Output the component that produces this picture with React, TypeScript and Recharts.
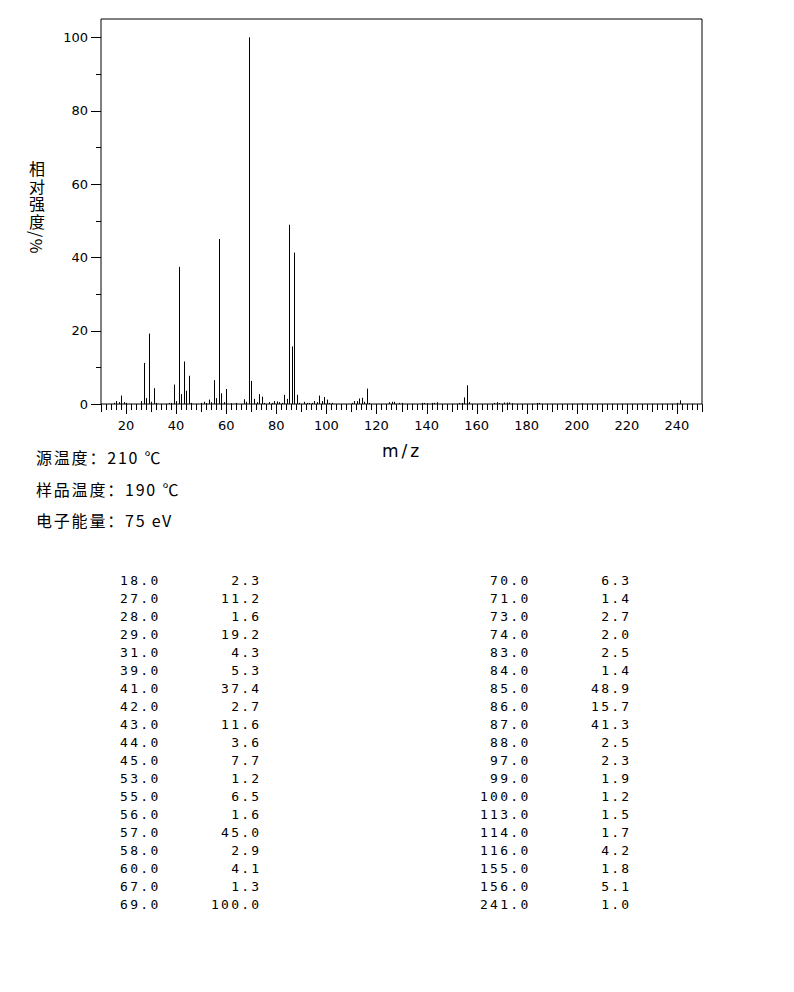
import React from "react";
import { BarChart, Bar, XAxis, YAxis, ReferenceLine } from "recharts";

// peaks listed in the table (m/z, relative intensity %)
const tableMz = [
  18, 27, 28, 29, 31, 39, 41, 42, 43, 44, 45, 53, 55, 56, 57, 58, 60, 67, 69,
  70, 71, 73, 74, 83, 84, 85, 86, 87, 88, 97, 99, 100, 113, 114, 116, 155, 156, 241,
];
const tableIntensity = [
  2.3, 11.2, 1.6, 19.2, 4.3, 5.3, 37.4, 2.7, 11.6, 3.6, 7.7, 1.2, 6.5, 1.6, 45.0, 2.9, 4.1, 1.3, 100.0,
  6.3, 1.4, 2.7, 2.0, 2.5, 1.4, 48.9, 15.7, 41.3, 2.5, 2.3, 1.9, 1.2, 1.5, 1.7, 4.2, 1.8, 5.1, 1.0,
];

// small peaks seen in the spectrum but below the table cut-off (estimated)
const minorMz = [
  15, 16, 17, 19, 20, 26, 30, 32, 37, 38, 40, 46, 50, 51, 52, 54, 59, 62, 64, 68,
  72, 75, 77, 78, 79, 80, 81, 82, 89, 91, 92, 93, 94, 95, 96, 98, 101, 102, 110, 111,
  112, 115, 117, 125, 126, 127, 129, 130, 138, 139, 140, 142, 143, 144, 153, 154, 157, 167,
  168, 169, 171, 172, 173, 174, 184, 185, 202, 240,
];
const minorIntensity = [
  0.3, 0.8, 0.5, 0.5, 0.3, 0.8, 0.6, 0.3, 0.3, 0.3, 0.8, 0.3, 0.3, 0.6, 0.3, 0.5, 0.5, 0.2, 0.3, 0.6,
  0.5, 0.3, 0.5, 0.3, 0.8, 0.7, 0.5, 0.3, 0.3, 0.6, 0.3, 0.3, 0.3, 0.8, 0.5, 0.8, 0.3, 0.3, 0.3, 0.8,
  0.8, 0.6, 0.3, 0.5, 0.6, 0.6, 0.3, 0.3, 0.3, 0.3, 0.2, 0.3, 0.3, 0.5, 0.3, 0.3, 0.5, 0.3,
  0.5, 0.2, 0.4, 0.4, 0.4, 0.2, 0.3, 0.3, 0.2, 0.3,
];

const xTickLabels = [20, 40, 60, 80, 100, 120, 140, 160, 180, 200, 220, 240];
const yTickLabels = [0, 20, 40, 60, 80, 100];

const conditions = ["源温度：210 ℃", "样品温度：190 ℃", "电子能量：75 eV"];

const peaks = [
  ...tableMz.map((mz, i) => ({ mz, intensity: tableIntensity[i] })),
  ...minorMz.map((mz, i) => ({ mz, intensity: minorIntensity[i] })),
].sort((a, b) => a.mz - b.mz);

const xTicks: number[] = [];
for (let v = 10; v <= 250; v += 2) xTicks.push(v);
const yTicks: number[] = [];
for (let v = 0; v <= 100; v += 10) yTicks.push(v);

const tickFont = { fontFamily: "DejaVu Sans", fontSize: 13, fill: "#000" };

function XTick({ x, y, payload }: any) {
  const v = payload.value;
  const major = xTickLabels.includes(v);
  const len = major ? 10 : v % 10 === 0 ? 8 : 6;
  const px = Math.round(x) + 0.5;
  return (
    <g>
      <line x1={px} x2={px} y1={y} y2={y + len} stroke="#000" />
      {major && (
        <text x={x} y={y + 21} textAnchor="middle" dominantBaseline="central" {...tickFont}>
          {v}
        </text>
      )}
    </g>
  );
}

function YTick({ x, y, payload }: any) {
  const v = payload.value;
  const major = yTickLabels.includes(v);
  const py = Math.round(y) + 0.5;
  return (
    <g>
      <line x1={x - (major ? 10 : 5)} x2={x} y1={py} y2={py} stroke="#000" />
      {major && (
        <text x={x - 13} y={y} textAnchor="end" dominantBaseline="central" {...tickFont}>
          {v}
        </text>
      )}
    </g>
  );
}

function Stick(props: any) {
  const { x, y, width, height } = props;
  if (!height || height <= 0) return null;
  return <rect x={Math.round(x + width / 2)} y={y} width={1} height={height} fill="#000" />;
}

const mono: React.CSSProperties = {
  position: "absolute",
  fontFamily: "DejaVu Sans Mono",
  fontSize: 13,
  letterSpacing: 2.27,
  lineHeight: "18px",
  whiteSpace: "pre",
  color: "#000",
};

export default function App() {
  const half = Math.ceil(tableMz.length / 2);
  const rows = tableMz.map(
    (mz, i) => mz.toFixed(1).padStart(5) + tableIntensity[i].toFixed(1).padStart(10)
  );
  return (
    <div style={{ position: "absolute", left: 0, top: 0, width: 794, height: 992, background: "#fff" }}>
      <BarChart
        width={794}
        height={440}
        data={peaks}
        margin={{ top: 19, right: 92, bottom: 6, left: 41 }}
        barCategoryGap={0}
      >
        <XAxis
          dataKey="mz"
          type="number"
          domain={[10, 250]}
          ticks={xTicks}
          interval={0}
          tickSize={0}
          tickMargin={0}
          tick={<XTick />}
          axisLine={{ stroke: "#000" }}
          height={30}
          allowDataOverflow
        />
        <YAxis
          type="number"
          domain={[0, 105]}
          ticks={yTicks}
          interval={0}
          tickSize={0}
          tickMargin={0}
          tick={<YTick />}
          axisLine={{ stroke: "#000" }}
          width={60}
          allowDataOverflow
        />
        <ReferenceLine y={105} stroke="#000" />
        <ReferenceLine x={250} stroke="#000" />
        <Bar dataKey="intensity" barSize={1} shape={<Stick />} isAnimationActive={false} />
      </BarChart>

      <div
        style={{
          position: "absolute",
          left: 28,
          top: 161,
          writingMode: "vertical-rl",
          fontFamily: "Noto Sans CJK SC",
          fontSize: 16,
          letterSpacing: 1.5,
          lineHeight: "18px",
          color: "#000",
        }}
      >
        相对强度/%
      </div>

      <div
        style={{
          position: "absolute",
          left: 350,
          width: 104,
          top: 441,
          textAlign: "center",
          fontFamily: "DejaVu Sans",
          fontSize: 17,
          letterSpacing: 3,
          color: "#000",
        }}
      >
        m/z
      </div>

      {conditions.map((c, i) => (
        <div
          key={c}
          style={{
            position: "absolute",
            left: 36,
            top: 446 + i * 31.5,
            fontFamily: "Noto Sans CJK SC",
            fontSize: 16,
            letterSpacing: 1.8,
            lineHeight: "22px",
            whiteSpace: "pre",
            color: "#000",
          }}
        >
          {c}
        </div>
      ))}

      <div style={{ ...mono, left: 110, top: 572 }}>{rows.slice(0, half).join("\n")}</div>
      <div style={{ ...mono, left: 480, top: 572 }}>{rows.slice(half).join("\n")}</div>
    </div>
  );
}
